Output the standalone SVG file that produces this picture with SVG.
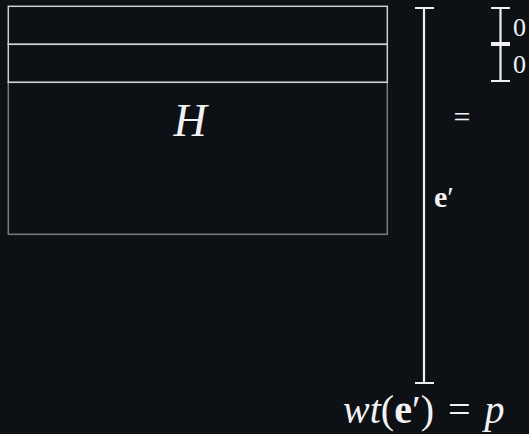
<svg xmlns="http://www.w3.org/2000/svg" width="529" height="434" viewBox="0 0 529 434">
<style>
.row{fill:none;stroke:#cfcfcf;stroke-width:1.5}
.mat{fill:none;stroke:#7a7a7a;stroke-width:1.5}
.bar{stroke:#f0f0f0;stroke-width:2.2;fill:none}
.m{font-family:"Liberation Serif","DejaVu Serif",serif;fill:#f2f2f2}
.b{font-weight:bold}
</style>
<rect width="529" height="434" fill="#0d1014"/>
<g id="H">
<rect class="mat" x="8.3" y="82.3" width="379" height="152"/>
<text class="m" x="190" y="136" font-size="46" font-style="italic" text-anchor="middle">H</text>
</g>
<g id="row1"><rect class="row" x="8.3" y="6.3" width="379" height="38"/></g>
<g id="row2"><rect class="row" x="8.3" y="44.3" width="379" height="38"/></g>
<g id="connectors">
<path class="bar" d="M424 8V383M415 8H434M415 383H434"/>
<path class="bar" d="M500.5 8V43M491 8H510M491 43H510"/>
<path class="bar" d="M500.5 45V81M491 45H510M491 81H510"/>
</g>
<g id="eprime">
<text class="m" x="434" y="207" font-size="30"><tspan class="b">e</tspan>′</text>
</g>
<g id="eq"><text class="m" x="462" y="127" font-size="30" text-anchor="middle" fill="#b0b0b0">=</text></g>
<g id="zeros">
<text class="m" x="513" y="36" font-size="26">0</text>
<text class="m" x="513" y="73" font-size="26">0</text>
</g>
<g id="weight">
<text class="m" x="343" y="423" font-size="40"><tspan font-style="italic">wt</tspan>(<tspan class="b">e</tspan>′)<tspan dx="14">=</tspan><tspan dx="14" font-style="italic">p</tspan></text>
</g>
</svg>
